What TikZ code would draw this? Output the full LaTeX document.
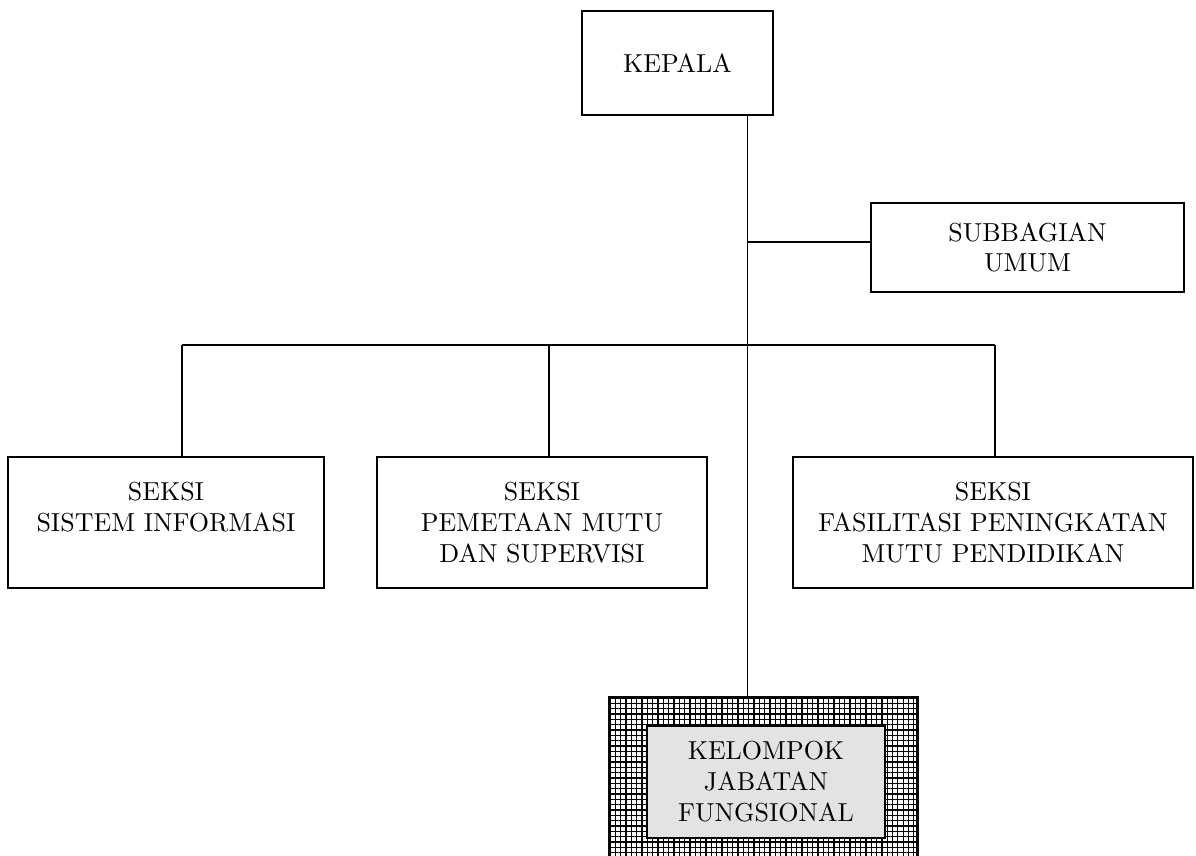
\documentclass[tikz,border=0pt]{standalone}
\usepackage{fontspec}
\setmainfont{lmroman10}[Extension=.otf, UprightFont=*-regular]
\usepackage{tikz}
\usetikzlibrary{positioning}

\begin{document}
\begin{tikzpicture}[x=0.02cm, y=-0.02cm,
        unit/.style={draw, line width=1.1pt, fill=white, align=center,
            font=\fontsize{14.8}{17.6}\selectfont, inner sep=0pt},
        conn/.style={line width=1.1pt}]
            \useasboundingbox (0,0) rectangle (1196,855);
            % Boxes
            \node[unit, minimum width=3.82cm, minimum height=2.08cm] (kepala) at (677.5,63) {KEPALA};
            \node[unit, minimum width=6.26cm, minimum height=1.78cm] (subbag) at (1027.5,247.5) {SUBBAGIAN\\UMUM};
            \node[unit, minimum width=6.32cm, minimum height=2.62cm] (sistem) at (166,522.5) {SEKSI\\SISTEM INFORMASI\\\mbox{}};
            \node[unit, minimum width=6.6cm, minimum height=2.62cm] (pemetaan) at (542,522.5) {SEKSI\\PEMETAAN MUTU\\DAN SUPERVISI};
            \node[unit, minimum width=8cm, minimum height=2.62cm] (fasilitasi) at (993,522.5) {SEKSI\\FASILITASI PENINGKATAN\\MUTU PENDIDIKAN};
            % Functional group
            \node[unit, minimum width=6.14cm, minimum height=3.3cm] (kelompok) at (763.5,780.5) {};
            \begin{scope}
                \clip (kelompok.north west) rectangle (kelompok.south east);
                \foreach \i in {0,...,58}
                    \draw[line width=0.75pt] ({610+\i*5.33},690) -- ({610+\i*5.33},870);
                \foreach \j in {0,...,32}
                    \draw[line width=0.75pt] (600,{698+\j*5.33}) -- (925,{698+\j*5.33});
            \end{scope}
            \draw[line width=1.4pt] (kelompok.north west) rectangle (kelompok.south east);
            \node[unit, fill=gray!22, line width=1.6pt, minimum width=4.76cm, minimum height=2.24cm] (jabatan) at (766,782) {KELOMPOK\\JABATAN\\FUNGSIONAL};
            % Lines
            \coordinate (trunk) at (747.5,115);
            \draw[conn] (trunk) -- (trunk |- kelompok.north);
            \draw[conn] (747.5,242) -- (747.5,242 -| subbag.west);
            \draw[conn] (182,345) -- (995,345);
            \draw[conn] (182,345) -- (182,345 |- sistem.north);
            \draw[conn] (549,345) -- (549,345 |- pemetaan.north);
            \draw[conn] (995,345) -- (995,345 |- fasilitasi.north);
        \end{tikzpicture}
\end{document}
